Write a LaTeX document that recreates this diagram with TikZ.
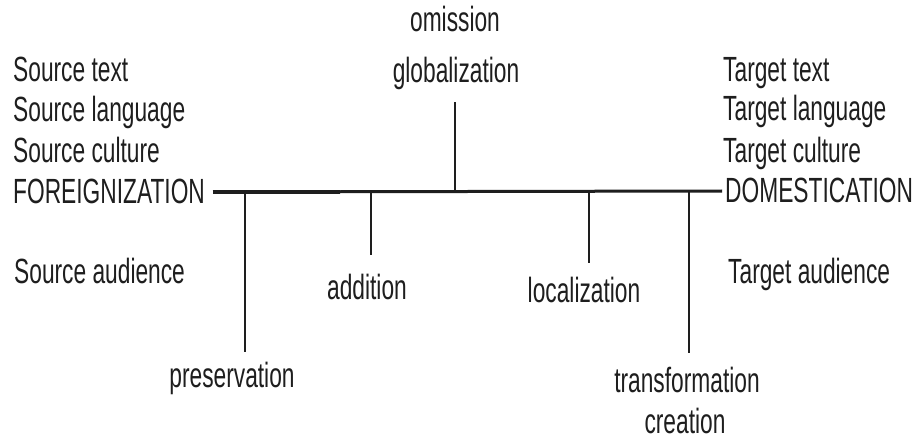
\documentclass[tikz,border=0pt]{standalone}
\usepackage{fontspec}
\setmainfont[FakeStretch=0.65]{Liberation Sans}
\definecolor{ink}{HTML}{1E1E1E}
\begin{document}
\begin{tikzpicture}[x=1pt,y=-1pt,
  lbl/.style={inner sep=0pt,text=ink,font=\fontsize{35}{40}\selectfont},
  lw/.style={lbl,anchor=base west},
  lc/.style={lbl,anchor=base},
  axis/.style={draw=ink,line width=3pt},
  tick/.style={draw=ink,line width=2.2pt}]
\useasboundingbox[fill=white] (0,0) rectangle (916,441);
% left block
\node[lw] (st) at (13,82) {Source text};
\node[lw] (sl) at (13,122) {Source language};
\node[lw] (sc) at (13,163) {Source culture};
\node[lw] (fo) at (13,204) {FOREIGNIZATION};
\node[lw] (sa) at (14,283) {Source audience};
% right block
\node[lw] (tt) at (723,82) {Target text};
\node[lw] (tl) at (723,121) {Target language};
\node[lw] (tc) at (723,163) {Target culture};
\node[lw] (do) at (725,202) {DOMESTICATION};
\node[lw] (ta) at (728,283) {Target audience};
% strategy labels
\node[lc] (om) at (455,32) {omission};
\node[lc] (gl) at (456,83) {globalization};
\node[lc] (ad) at (367,299) {addition};
\node[lc] (lo) at (584,302) {localization};
\node[lc] (pr) at (232,387) {preservation};
\node[lc] (tr) at (687,392) {transformation};
\node[lc] (cr) at (685,433) {creation};
% main axis
\coordinate (ml) at (213,192);
\coordinate (mk) at (340,192);
\coordinate (mr) at (722,191);
\draw[axis] (ml) -- (mr);
\draw[draw=ink,line width=4.5pt] (ml) -- (mk);
% junctions and tick ends
\coordinate (jg) at (455,191);  \coordinate (eg) at (455,102);
\coordinate (jp) at (245,192);  \coordinate (ep) at (245,352);
\coordinate (ja) at (371,192);  \coordinate (ea) at (371,255);
\coordinate (jl) at (589,191);  \coordinate (el) at (589,263);
\coordinate (jt) at (689,191);  \coordinate (et) at (689,353);
\draw[tick] (jg) -- (eg);
\draw[tick] (jp) -- (ep);
\draw[tick] (ja) -- (ea);
\draw[tick] (jl) -- (el);
\draw[tick] (jt) -- (et);
\end{tikzpicture}
\end{document}
